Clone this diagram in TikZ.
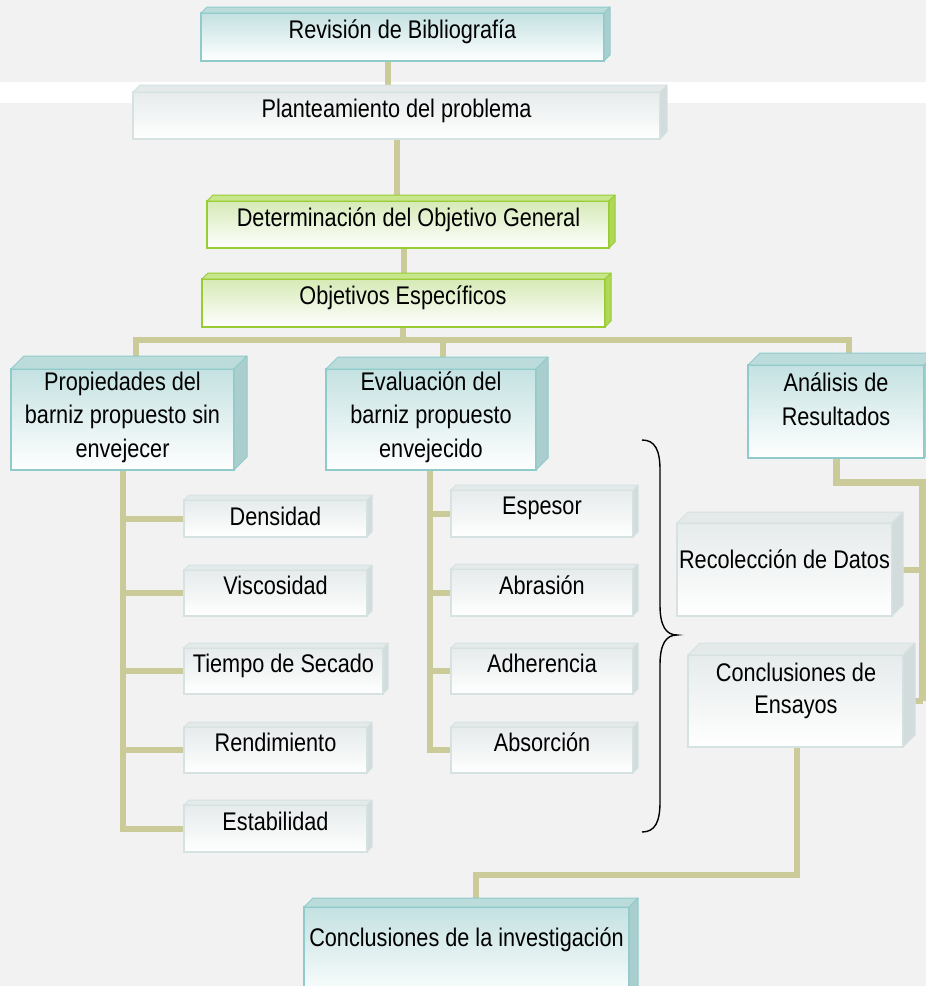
\documentclass[tikz,border=0pt]{standalone}
\usepackage{fontspec}
\setmainfont[FakeStretch=0.85]{Liberation Sans}
\usetikzlibrary{calc}
\pgfdeclarelayer{bgl}
\pgfdeclarelayer{connl}
\pgfsetlayers{bgl,connl,main}
\definecolor{bgcol}{RGB}{242,242,242}
\definecolor{conncol}{RGB}{203,203,153}
\definecolor{tealline}{RGB}{143,203,203}
\definecolor{tealtop}{RGB}{188,220,220}
\definecolor{tealside}{RGB}{170,205,205}
\definecolor{tealfront}{RGB}{196,225,225}
\definecolor{grayline}{RGB}{214,225,225}
\definecolor{graytop}{RGB}{228,234,234}
\definecolor{grayside}{RGB}{210,220,220}
\definecolor{grayfront}{RGB}{230,235,235}
\definecolor{greenline}{RGB}{153,204,51}
\definecolor{greentop}{RGB}{200,230,140}
\definecolor{greenside}{RGB}{175,215,90}
\definecolor{greenfront}{RGB}{214,234,182}
\tikzset{
  box/.style={draw=#1line, line width=1.3pt, top color=#1front, bottom color=white, inner sep=0pt, outer sep=0pt},
  face/.style={line width=1pt, line join=round},
  lbl/.style={font=\fontsize{25.5}{30}\selectfont, inner sep=0pt, anchor=base, text=black},
  conn/.style={draw=conncol, line width=6pt, line join=miter},
}
\newcommand\mkbox[7]{%
  \node[box=#7, minimum width={#4-#2}, minimum height={#5-#3}] (#1) at ({(#2+#4)/2},{(#3+#5)/2}) {};
  \filldraw[face, fill=#7top, draw=#7line] (#1.north west) -- ++(#6,-#6) -- ([shift={(#6,-#6)}]#1.north east) -- (#1.north east) -- cycle;
  \filldraw[face, fill=#7side, draw=#7line] (#1.north east) -- ++(#6,-#6) -- ([shift={(#6,-#6)}]#1.south east) -- (#1.south east) -- cycle;
}
\newcommand\lbl[4]{\node[lbl] (#1) at (#2,#3) {#4};}
\begin{document}
\begin{tikzpicture}[x=1pt,y=-1pt]
\useasboundingbox (0,0) rectangle (926,986);
\clip (0,0) rectangle (926,986);
\begin{pgfonlayer}{bgl}
  \fill[bgcol] (0,0) rectangle (926,986);
  \fill[white] (0,82) rectangle (926,103);
\end{pgfonlayer}

% boxes
\mkbox{rev}{201}{13}{604}{61}{6}{teal}
\mkbox{plan}{133}{92}{660}{139}{7}{gray}
\mkbox{det}{207}{201}{609}{248}{6}{green}
\mkbox{obj}{202}{279}{605}{327}{6}{green}
\mkbox{prop}{11}{369}{234}{470}{13}{teal}
\mkbox{eval}{326}{369}{536}{470}{12}{teal}
\mkbox{anal}{748}{365}{924}{458}{12}{teal}
\mkbox{dens}{184}{500}{367}{537}{5}{gray}
\mkbox{visc}{184}{570}{367}{616}{5}{gray}
\mkbox{tiem}{184}{648}{383}{694}{5}{gray}
\mkbox{rend}{184}{727}{367}{773}{5}{gray}
\mkbox{esta}{184}{805}{367}{852}{5}{gray}
\mkbox{espe}{451}{490}{633}{537}{5}{gray}
\mkbox{abra}{451}{569}{633}{616}{5}{gray}
\mkbox{adhe}{451}{648}{633}{694}{5}{gray}
\mkbox{abso}{451}{727}{633}{773}{5}{gray}
\mkbox{reco}{677}{523}{892}{616}{11}{gray}
\mkbox{ensa}{688}{655}{903}{747}{12}{gray}
\mkbox{conc}{304}{907}{629}{1000}{9}{teal}

% labels
\lbl{trev}{402.5}{38}{Revisión de Bibliografía}
\lbl{tplan}{396.5}{117}{Planteamiento del problema}
\lbl{tdet}{408.5}{226.7}{Determinación del Objetivo General}
\lbl{tobj}{403}{304}{Objetivos Específicos}
\lbl{tprop1}{122.5}{390}{Propiedades del}
\lbl{tprop2}{122.5}{423.5}{barniz propuesto sin}
\lbl{tprop3}{122.5}{457}{envejecer}
\lbl{teval1}{431}{390}{Evaluación del}
\lbl{teval2}{431}{423.5}{barniz propuesto}
\lbl{teval3}{431}{457}{envejecido}
\lbl{tanal1}{836}{391.5}{Análisis de}
\lbl{tanal2}{836}{425}{Resultados}
\lbl{treco}{784.5}{568}{Recolección de Datos}
\lbl{tensa1}{796}{681.7}{Conclusiones de}
\lbl{tensa2}{796}{713}{Ensayos}
\lbl{tdens}{275.5}{525}{Densidad}
\lbl{tvisc}{275.5}{594}{Viscosidad}
\lbl{ttiem}{283.5}{672.7}{Tiempo de Secado}
\lbl{trend}{275.5}{751.7}{Rendimiento}
\lbl{testa}{275.5}{830}{Estabilidad}
\lbl{tespe}{542}{514.3}{Espesor}
\lbl{tabra}{542}{594}{Abrasión}
\lbl{tadhe}{542}{672.7}{Adherencia}
\lbl{tabso}{542}{751.7}{Absorción}
\lbl{tconc}{466.5}{946}{Conclusiones de la investigación}

% helper coordinates
\coordinate (xa) at (387.5,0);
\coordinate (xb) at (396.5,0);
\coordinate (xc) at (403.5,0);
\coordinate (xo) at (403,0);
\coordinate (bar) at (0,340);
\coordinate (xp) at (136,0);
\coordinate (xev) at (443,0);
\coordinate (xan) at (849,0);
\coordinate (xpt) at (123,0);
\coordinate (xet) at (430,0);
\coordinate (xa2) at (836.5,0);
\coordinate (ya) at (0,482.5);
\coordinate (xr) at (922.5,0);
\coordinate (xe) at (797,0);
\coordinate (yc) at (0,875);
\coordinate (xcn) at (476,0);

\begin{pgfonlayer}{connl}
  \draw[conn] (rev.south -| xa) -- (plan.north -| xa);
  \draw[conn] (plan.south -| xb) -- (det.north -| xb);
  \draw[conn] (det.south -| xc) -- (obj.north -| xc);
  \draw[conn] (obj.south -| xo) -- (xo |- bar);
  \draw[conn] (prop.north -| xp) -- (xp |- bar) -- (xan |- bar) -- (anal.north -| xan);
  \draw[conn] (xev |- bar) -- (eval.north -| xev);
  % left trunk
  \draw[conn] (prop.south -| xpt) -- (xpt |- esta.west) -- (esta.west);
  \draw[conn] (xpt |- dens.west) -- (dens.west);
  \draw[conn] (xpt |- visc.west) -- (visc.west);
  \draw[conn] (xpt |- tiem.west) -- (tiem.west);
  \draw[conn] (xpt |- rend.west) -- (rend.west);
  % middle trunk
  \draw[conn] (eval.south -| xet) -- (xet |- abso.west) -- (abso.west);
  \draw[conn] (xet |- espe.west) -- (espe.west);
  \draw[conn] (xet |- abra.west) -- (abra.west);
  \draw[conn] (xet |- adhe.west) -- (adhe.west);
  % right side
  \draw[conn, line width=7.5pt] (anal.south -| xa2) -- (xa2 |- ya) -- (xr |- ya) -- (xr |- ensa.east);
  \draw[conn] (reco.east) -- (xr |- reco.east);
  \draw[conn] (ensa.east) -- (xr |- ensa.east);
  \draw[conn] (ensa.south -| xe) -- (xe |- yc) -- (xcn |- yc) -- (conc.north -| xcn);
\end{pgfonlayer}

% brace
\draw[line width=1.4pt, black] (642,440) .. controls (655,440) and (660,450) .. (660,470) -- (660,605) .. controls (660,626) and (666,635) .. (677,635) .. controls (666,635) and (660,644) .. (660,665) -- (660,802) .. controls (660,822) and (655,832) .. (642,832);
\end{tikzpicture}
\end{document}
